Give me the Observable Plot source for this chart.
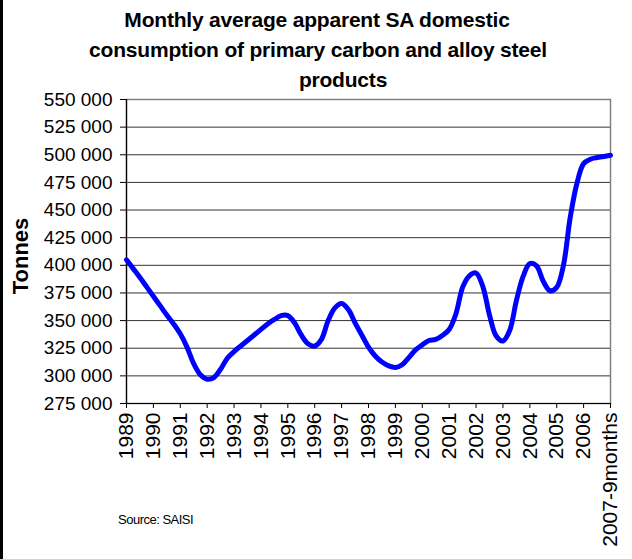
<!DOCTYPE html>
<html>
<head>
<meta charset="utf-8">
<script src="https://cdn.jsdelivr.net/npm/d3@7"></script>
<script src="https://cdn.jsdelivr.net/npm/@observablehq/plot@0.6"></script>
<style>
  html, body { margin: 0; padding: 0; background: #fff; }
  #wrap { position: relative; width: 632px; height: 559px; overflow: hidden; font-family: "Liberation Sans", Arial, sans-serif; color: #000; }
  #wrap::before { content: ""; position: absolute; left: 0; top: 0; width: 3px; height: 559px; background: #000; }
  .title { position: absolute; font-weight: bold; font-size: 21px; white-space: nowrap; transform: translate(-50%, -50%); letter-spacing: -0.2px; }
  #ylab { position: absolute; left: 21px; top: 256px; font-weight: bold; font-size: 22px; transform: translate(-50%, -50%) rotate(-90deg); white-space: nowrap; }
  #source { position: absolute; left: 118px; top: 512px; font-size: 13px; letter-spacing: -0.5px; white-space: nowrap; }
  #chart { position: absolute; left: 0; top: 90px; }
</style>
</head>
<body>
<div id="wrap">
  <div class="title" style="left:317px; top:20px;">Monthly average apparent SA domestic</div>
  <div class="title" style="left:318px; top:50px;">consumption of primary carbon and alloy steel</div>
  <div class="title" style="left:343px; top:80px;">products</div>
  <div id="ylab">Tonnes</div>
  <div id="source">Source: SAISI</div>
  <div id="chart"></div>
</div>
<script>
// Tick labels
const xTickYears = [1989,1990,1991,1992,1993,1994,1995,1996,1997,1998,1999,2000,2001,2002,2003,2004,2005,2006,2007];
const xTickLabels = ["1989","1990","1991","1992","1993","1994","1995","1996","1997","1998","1999","2000","2001","2002","2003","2004","2005","2006","2007-9months"];
const yTicks = [275000,300000,325000,350000,375000,400000,425000,450000,475000,500000,525000,550000];

// Series (time in decimal years, value in tonnes)
const time = [
  1989.0,1989.25,1989.5,1989.75,1990.0,1990.25,1990.5,1990.75,
  1991.0,1991.25,1991.5,1991.75,1992.0,1992.25,1992.5,1992.75,
  1993.0,1993.25,1993.5,1993.75,1994.0,1994.25,1994.5,1994.75,
  1995.0,1995.25,1995.5,1995.75,1996.0,1996.25,1996.5,1996.75,
  1997.0,1997.25,1997.5,1997.75,1998.0,1998.25,1998.5,1998.75,
  1999.0,1999.25,1999.5,1999.75,2000.0,2000.25,2000.5,2000.75,
  2001.0,2001.25,2001.5,2001.75,2002.0,2002.25,2002.5,2002.75,
  2003.0,2003.25,2003.5,2003.75,2004.0,2004.25,2004.5,2004.75,
  2005.0,2005.25,2005.5,2005.75,2006.0,2006.25,2006.5,2006.75,2007.0
];
const tonnes = [
  405000,397000,389000,380500,372000,363500,355000,347000,
  338000,326000,311000,301000,297000,298500,306000,316000,
  322000,327000,332000,337000,342000,347000,351000,354500,
  354500,348000,337000,329000,327000,333000,350000,361500,
  365500,360000,348000,337000,326000,318000,312500,309000,
  307500,310000,316500,323500,328000,332000,333000,336500,
  342000,356000,380000,390500,393000,381000,355000,336000,
  331500,341000,368000,390000,401500,399500,385500,377000,
  380000,400000,443000,474000,492000,496000,497500,498500,499500
];

const data = time.map((t, i) => ({t, v: tonnes[i]}));
const locale = d3.formatLocale({thousands: " ", grouping: [3], decimal: ".", currency: ["", ""]});
const fmt = locale.format(",d");

const chart = Plot.plot({
  width: 632,
  height: 469,
  marginLeft: 126,
  marginRight: 22,
  marginTop: 9,
  marginBottom: 156,
  style: {fontFamily: "'Liberation Sans', Arial, sans-serif", fontSize: "19px", color: "#000", background: "transparent", overflow: "visible"},
  x: {domain: d3.extent(xTickYears)},
  y: {domain: d3.extent(yTicks)},
  marks: [
    Plot.gridY(yTicks, {stroke: "#000", strokeOpacity: 0.8, strokeWidth: 1}),
    Plot.frame({stroke: "#808080", strokeWidth: 1.5}),
    Plot.axisY({ticks: yTicks, tickFormat: fmt, tickSize: 6, tickPadding: 8, label: null, stroke: "#000"}),
    Plot.axisX({ticks: xTickYears, tickFormat: (d) => xTickLabels[xTickYears.indexOf(d)], tickRotate: -90, tickSize: 5, tickPadding: 4, label: null, stroke: "#000", fontSize: 21}),
    Plot.ruleX([d3.min(xTickYears)], {stroke: "#000", strokeWidth: 1.2}),
    Plot.ruleY([d3.min(yTicks)], {stroke: "#000", strokeWidth: 1.2}),
    Plot.line(data, {x: "t", y: "v", stroke: "#0000ff", strokeWidth: 5, curve: "catmull-rom", strokeLinejoin: "round", strokeLinecap: "round"})
  ]
});
document.getElementById("chart").appendChild(chart);
</script>
</body>
</html>
